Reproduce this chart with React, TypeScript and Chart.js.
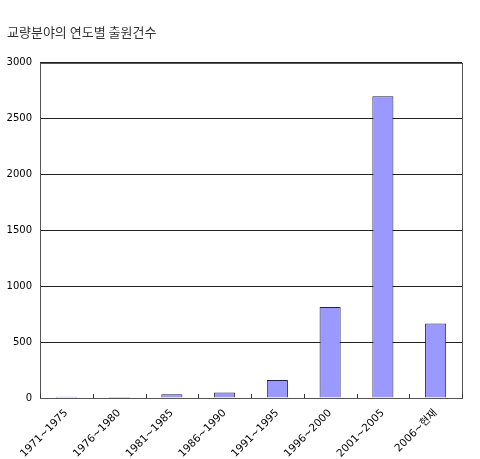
import React, { useEffect, useRef } from "react";
import { Chart, registerables } from "chart.js";

Chart.register(...registerables);

const title = "교량분야의 연도별 출원건수";
const categories = ["1971~1975", "1976~1980", "1981~1985", "1986~1990", "1991~1995", "1996~2000", "2001~2005", "2006~현재"];
const counts = [12, 10, 33, 50, 160, 815, 2700, 667];
const yTicks = [0, 500, 1000, 1500, 2000, 2500, 3000];

const FONT = "'DejaVu Sans', 'Noto Sans CJK KR', sans-serif";
const TFONT = "'Noto Sans CJK KR', sans-serif";

const framePlugin = {
  id: "frame",
  afterDatasetsDraw(chart: any) {
    const { ctx, chartArea } = chart;
    const x = chart.scales.x;
    ctx.save();
    ctx.strokeStyle = "#555";
    ctx.lineWidth = 1;
    ctx.strokeRect(Math.round(chartArea.left) + 0.5, Math.round(chartArea.top) + 0.5, Math.round(chartArea.right - chartArea.left), Math.round(chartArea.bottom - chartArea.top));
    ctx.strokeStyle = "#333";
    for (let i = 0; i <= categories.length; i++) {
      const px = Math.round(x.getPixelForValue(i - 0.5)) + 0.5;
      ctx.beginPath();
      ctx.moveTo(px, chartArea.bottom);
      ctx.lineTo(px, chartArea.bottom - 4);
      ctx.stroke();
    }
    ctx.restore();
  },
};

export default function App() {
  const ref = useRef<HTMLCanvasElement>(null);
  useEffect(() => {
    if (!ref.current) return;
    const chart = new Chart(ref.current, {
      type: "bar",
      data: {
        labels: categories,
        datasets: [
          {
            data: counts,
            backgroundColor: "#9999FF",
            borderColor: "#222244",
            borderWidth: 1,
            barPercentage: 0.4,
            categoryPercentage: 1,
          },
        ],
      },
      options: {
        animation: false,
        responsive: true,
        maintainAspectRatio: false,
        layout: { padding: { left: 7, right: 18, top: 0, bottom: 0 } },
        plugins: {
          legend: { display: false },
          tooltip: { enabled: false },
          title: {
            display: true,
            text: title,
            align: "start",
            color: "#333",
            font: { family: TFONT, size: 13, weight: "normal" },
            padding: { top: 24, bottom: 23 },
          },
        },
        scales: {
          x: {
            grid: { display: false },
            border: { display: false },
            ticks: {
              color: "#000",
              font: { family: FONT, size: 10.5 },
              minRotation: 45,
              maxRotation: 45,
              autoSkip: false,
              padding: 1,
            },
            afterFit: (s: any) => {
              s.height = 61;
            },
          },
          y: {
            min: 0,
            max: 3000,
            afterBuildTicks: (s: any) => {
              s.ticks = yTicks.map((v) => ({ value: v }));
            },
            grid: { color: "#222", drawTicks: false, lineWidth: 1 },
            border: { display: false },
            ticks: {
              color: "#000",
              font: { family: FONT, size: 10 },
              padding: 8,
              callback: (v: any) => String(v),
            },
            afterFit: (s: any) => {
              s.width = 33;
            },
          },
        },
      },
      plugins: [framePlugin],
    });
    return () => chart.destroy();
  }, []);
  return (
    <div style={{ position: "fixed", left: 0, top: 0, width: 480, height: 459, background: "#fff" }}>
      <canvas ref={ref} />
    </div>
  );
}
